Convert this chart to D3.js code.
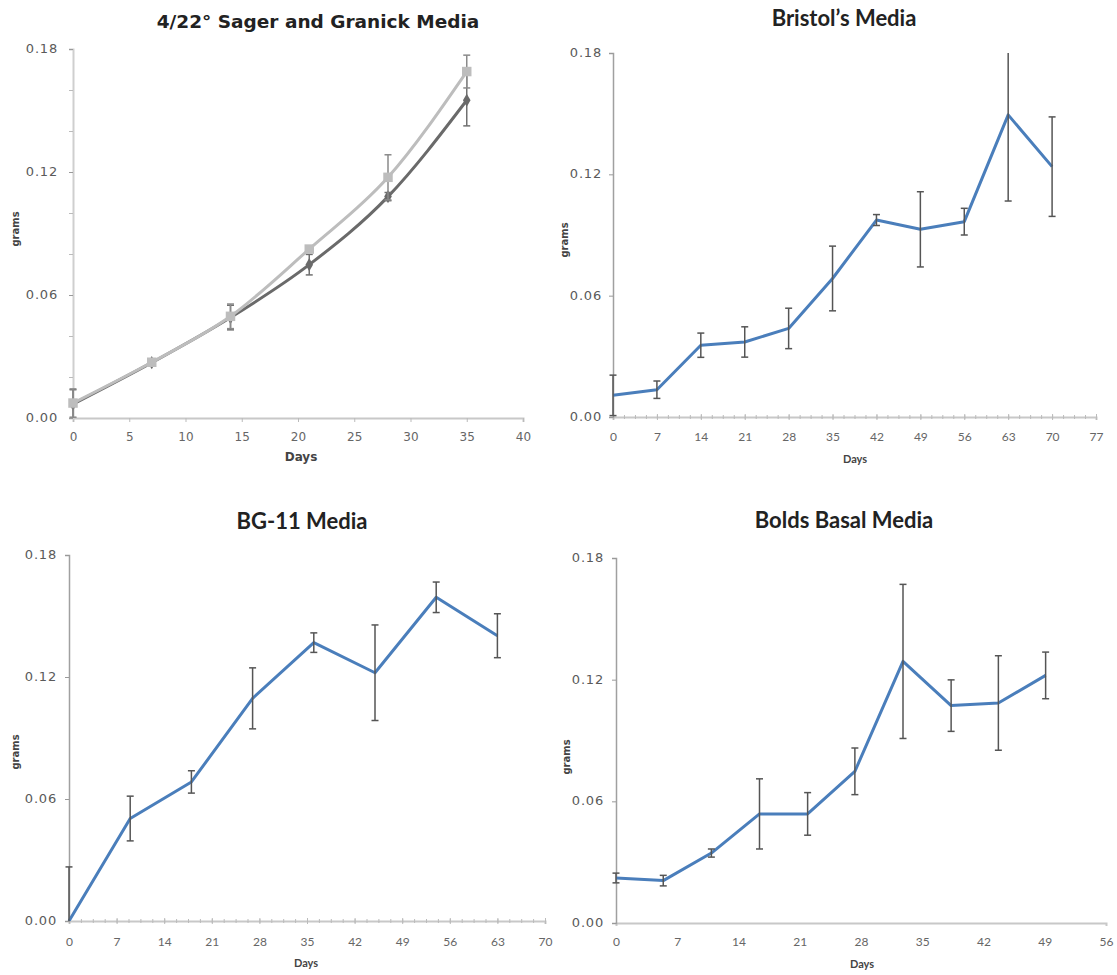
<!DOCTYPE html>
<html>
<head>
<meta charset="utf-8">
<script src="https://cdn.jsdelivr.net/npm/d3@7"></script>
<style>
  body { margin: 0; background: #fff; }
  svg { display: block; }
</style>
</head>
<body>
<div id="chart"></div>
<script>
// ---- data ----
const sagerDays     = [0, 7, 14, 21, 28, 35];
const sagerLight    = [0.0073, 0.0272, 0.0496, 0.0824, 0.1174, 0.169];
const sagerLightErr = [0.0069, 0.001, 0.006, 0.0015, 0.011, 0.008];
const sagerDark     = [0.0068, 0.027, 0.049, 0.0748, 0.108, 0.155];
const sagerDarkErr  = [0.007, 0.001, 0.006, 0.005, 0.002, 0.0125];

const bristolDays  = [0, 7, 14, 21, 28, 35, 42, 49, 56, 63, 70];
const bristolGrams = [0.0107, 0.0135, 0.0355, 0.0371, 0.0438, 0.0685, 0.0974, 0.0928, 0.0966, 0.1494, 0.1238];
const bristolErr   = [0.01, 0.0043, 0.006, 0.0075, 0.01, 0.016, 0.0027, 0.0186, 0.0066, 0.0426, 0.0246];

const bg11Days  = [0, 9, 18, 27, 36, 45, 54, 63];
const bg11Grams = [0, 0.0504, 0.0684, 0.1095, 0.1369, 0.1221, 0.1592, 0.1403];
const bg11Err   = [0.0266, 0.011, 0.0055, 0.015, 0.0048, 0.0235, 0.0075, 0.0108];

const boldsDays  = [0, 5.4, 10.9, 16.4, 21.9, 27.3, 32.8, 38.3, 43.7, 49.1];
const boldsGrams = [0.0222, 0.0209, 0.0345, 0.0538, 0.0538, 0.0748, 0.129, 0.1072, 0.1085, 0.1221];
const boldsErr   = [0.0024, 0.0026, 0.002, 0.0173, 0.0105, 0.0115, 0.038, 0.0127, 0.0233, 0.0115];

const yTicks = [0, 0.06, 0.12, 0.18];

const svg = d3.select('#chart').append('svg')
  .attr('width', 1117).attr('height', 975);

const blue = '#4a7ebb';

// panel boxes (pixel frame of each plot)
const panels = [
  { title: '4/22° Sager and Granick Media', x0: 73, x1: 523, y0: 418, y1: 49, tx: 318, ty: 23,
    titleFont: '"DejaVu Sans", sans-serif', titleSize: 18.5,
    xmax: 40, xstep: 5, xminor: 0, style: 'old', gx: 16, gy: 229, dx: 301, dy: 457, lx: 11, xly: 437,
    series: [
      { days: sagerDays, vals: sagerDark, err: sagerDarkErr, color: '#6a6a6a', marker: 'diamond', errColor: '#707070' },
      { days: sagerDays, vals: sagerLight, err: sagerLightErr, color: '#bdbdbd', marker: 'square', errColor: '#8a8a8a' }
    ] },
  { title: 'Bristol’s Media', x0: 613, x1: 1096, y0: 417, y1: 53, tx: 844, ty: 20,
    titleFont: 'Lato, sans-serif', titleSize: 22,
    xmax: 77, xstep: 7, xminor: 1.75, style: 'new', gx: 565, gy: 240, dx: 855, dy: 460, lx: 7, xly: 438,
    series: [{ days: bristolDays, vals: bristolGrams, err: bristolErr, color: blue, errColor: '#555' }] },
  { title: 'BG-11 Media', x0: 69, x1: 545, y0: 921, y1: 555, tx: 302, ty: 523,
    titleFont: 'Lato, sans-serif', titleSize: 22,
    xmax: 70, xstep: 7, xminor: 1.75, style: 'new', gx: 16, gy: 752, dx: 306, dy: 964, lx: 8, xly: 943,
    series: [{ days: bg11Days, vals: bg11Grams, err: bg11Err, color: blue, errColor: '#555' }] },
  { title: 'Bolds Basal Media', x0: 616, x1: 1106, y0: 923, y1: 558, tx: 844, ty: 522,
    titleFont: 'Lato, sans-serif', titleSize: 22,
    xmax: 56, xstep: 7, xminor: 0, style: 'new', gx: 567, gy: 757, dx: 862, dy: 965, lx: 8, xly: 943,
    series: [{ days: boldsDays, vals: boldsGrams, err: boldsErr, color: blue, errColor: '#555' }] }
];

panels.forEach(function(p, i) {
  const x = d3.scaleLinear().domain([0, p.xmax]).range([p.x0, p.x1]);
  const y = d3.scaleLinear().domain([0, 0.18]).range([p.y0, p.y1]);
  const g = svg.append('g');

  // clip so error bars stay inside the frame
  svg.append('clipPath').attr('id', 'clip' + i)
    .append('rect').attr('x', p.x0 - 10).attr('y', p.y1).attr('width', p.x1 - p.x0 + 20).attr('height', p.y0 - p.y1);

  // title
  g.append('text').attr('x', p.tx).attr('y', p.ty)
    .attr('text-anchor', 'middle').attr('dominant-baseline', 'middle')
    .style('font-family', p.titleFont).style('font-weight', 'bold')
    .style('font-size', p.titleSize + 'px').style('fill', '#222').text(p.title);

  // x axis
  const xTicks = d3.range(0, p.xmax + 0.001, p.xstep);
  const xAxis = g.append('g').attr('transform', `translate(0,${p.y0})`)
    .call(d3.axisBottom(x).tickValues(xTicks).tickSize(p.style === 'old' ? 4 : 3).tickPadding(6).tickFormat(d3.format('d')));
  xAxis.select('.domain').attr('stroke', '#c8c8c8').attr('stroke-width', 2);
  xAxis.selectAll('.tick line').attr('stroke', '#bbb');
  if (p.style === 'new') xAxis.selectAll('.tick line').attr('y1', -3).attr('y2', 3);
  if (p.xmax === 56) xAxis.selectAll('.tick line').remove();
  xAxis.selectAll('.tick text').attr('y', null).attr('dy', null)
    .attr('transform', `translate(0,${p.xly - p.y0})`).attr('dominant-baseline', 'middle')
    .style('font-family', p.style === 'old' ? '"DejaVu Sans", sans-serif' : 'Lato, sans-serif')
    .style('font-size', '12px').style('fill', '#666');

  // minor ticks on x axis
  if (p.xminor > 0) {
    g.append('g').attr('transform', `translate(0,${p.y0})`)
      .call(d3.axisBottom(x).tickValues(d3.range(0, p.xmax + 0.001, p.xminor)).tickSize(0).tickFormat(''))
      .call(a => a.select('.domain').remove())
      .selectAll('.tick').append('line').attr('y1', -2).attr('y2', 2).attr('stroke', '#bbb');
  }

  // y axis
  const yAxis = g.append('g').attr('transform', `translate(${p.x0},0)`)
    .call(d3.axisLeft(y).tickValues(yTicks).tickSize(4).tickPadding(p.lx).tickFormat(d3.format('.2f')));
  yAxis.select('.domain').attr('stroke', p.style === 'old' ? '#cfcfcf' : '#a0a0a0').attr('stroke-width', p.style === 'old' ? 2 : 1.5);
  yAxis.selectAll('.tick line').attr('stroke', '#999');
  yAxis.selectAll('.tick text').attr('dominant-baseline', 'middle').attr('dy', null)
    .style('font-family', '"DejaVu Sans", sans-serif').style('font-size', '13px')
    .style('letter-spacing', '0.8px').style('fill', '#5a5a5a');

  if (p.style === 'old') {
    g.append('g').attr('transform', `translate(${p.x0},0)`)
      .call(d3.axisLeft(y).tickValues(d3.range(0.02, 0.18, 0.02).filter(v => Math.abs(v / 0.06 - Math.round(v / 0.06)) > 0.01)).tickSize(4).tickFormat(''))
      .call(a => a.select('.domain').remove())
      .selectAll('.tick line').attr('stroke', '#bbb');
  }

  // axis titles
  g.append('text').attr('transform', `translate(${p.gx},${p.gy}) rotate(-90)`)
    .attr('text-anchor', 'middle').attr('dominant-baseline', 'middle')
    .style('font-family', '"DejaVu Sans", sans-serif').style('font-weight', 'bold')
    .style('font-size', '10px').style('fill', '#444').text('grams');
  g.append('text').attr('x', p.dx).attr('y', p.dy)
    .attr('text-anchor', 'middle').attr('dominant-baseline', 'middle')
    .style('font-family', p.style === 'old' ? '"DejaVu Sans", sans-serif' : 'Lato, sans-serif')
    .style('font-weight', 'bold').style('font-size', p.style === 'old' ? '12px' : '11px')
    .style('fill', '#444').text('Days');

  // series
  const plot = g.append('g').attr('clip-path', `url(#clip${i})`);
  p.series.forEach(function(s) {
    const pts = s.days.map((d, k) => ({ d: d, v: s.vals[k], e: s.err[k] }));

    const line = d3.line().x(d => x(d.d)).y(d => y(d.v))
      .curve(p.style === 'old' ? d3.curveMonotoneX : d3.curveLinear);
    plot.append('path').datum(pts).attr('d', line)
      .attr('fill', 'none').attr('stroke', s.color).attr('stroke-width', 3)
      .attr('stroke-linejoin', 'round');

    // error bars
    const eb = plot.append('g').selectAll('g').data(pts).enter().append('g');
    eb.append('line')
      .attr('x1', d => x(d.d)).attr('x2', d => x(d.d))
      .attr('y1', d => y(d.v - d.e)).attr('y2', d => y(d.v + d.e))
      .attr('stroke', s.errColor).attr('stroke-width', 1.5);
    eb.append('line')
      .attr('x1', d => x(d.d) - 3.5).attr('x2', d => x(d.d) + 3.5)
      .attr('y1', d => y(d.v + d.e)).attr('y2', d => y(d.v + d.e))
      .attr('stroke', s.errColor).attr('stroke-width', 1.5);
    eb.append('line')
      .attr('x1', d => x(d.d) - 3.5).attr('x2', d => x(d.d) + 3.5)
      .attr('y1', d => y(d.v - d.e)).attr('y2', d => y(d.v - d.e))
      .attr('stroke', s.errColor).attr('stroke-width', 1.5);

    if (s.marker) {
      plot.append('g').selectAll('path').data(pts).enter().append('path')
        .attr('transform', d => `translate(${x(d.d)},${y(d.v)})`)
        .attr('d', d3.symbol().type(s.marker === 'square' ? d3.symbolSquare : d3.symbolDiamond).size(s.marker === 'square' ? 90 : 50))
        .attr('fill', s.color);
    }
  });
});
</script>
</body>
</html>
